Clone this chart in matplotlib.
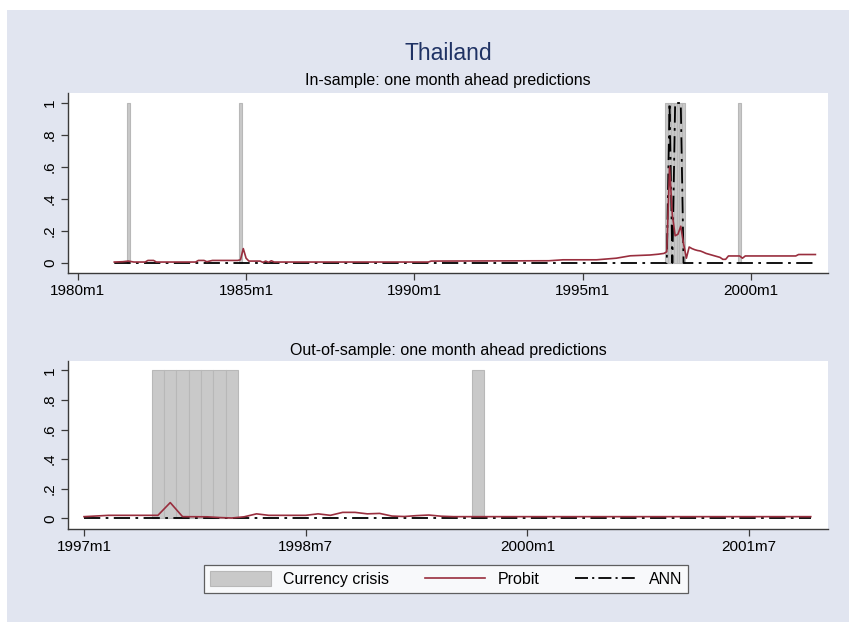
import matplotlib.pyplot as plt
import matplotlib.patches as mpatches
from matplotlib.lines import Line2D
import numpy as np

plt.rcParams['font.family'] = ['Liberation Sans', 'DejaVu Sans']


def stata_month(s):
    # "1997m7" -> months since 1960m1, like Stata's %tm
    y, m = s.split('m')
    return (int(y) - 1960) * 12 + int(m) - 1


# ---- In-sample panel ----
crisis_in = ["1981m7", "1984m11", "1997m7", "1997m8", "1997m9", "1997m10",
             "1997m11", "1997m12", "1998m1", "1999m9"]

probit_in_dates = ["1981m2", "1981m5", "1981m7", "1981m9", "1982m1", "1982m2",
                   "1982m4", "1982m5", "1983m7", "1983m8", "1983m10", "1983m11",
                   "1984m1", "1984m10", "1984m11", "1984m12", "1985m1", "1985m2",
                   "1985m6", "1985m7", "1985m8", "1985m9", "1985m10", "1985m11",
                   "1986m1", "1990m6", "1990m7", "1994m1", "1994m6", "1995m6",
                   "1996m1", "1996m6", "1997m1", "1997m4", "1997m6", "1997m7",
                   "1997m8", "1997m9", "1997m10", "1997m11", "1997m12", "1998m1",
                   "1998m2", "1998m3", "1998m4", "1998m5", "1998m6", "1998m7",
                   "1998m8", "1998m9", "1998m10", "1998m11", "1998m12", "1999m1",
                   "1999m2", "1999m3", "1999m4", "1999m5", "1999m9", "1999m10",
                   "1999m11", "2001m5", "2001m6", "2001m12"]
probit_in_vals = [0.006, 0.008, 0.012, 0.006, 0.006, 0.016,
                  0.016, 0.006, 0.006, 0.016, 0.016, 0.008,
                  0.016, 0.016, 0.02, 0.09, 0.03, 0.012,
                  0.012, 0.004, 0.012, 0.004, 0.014, 0.006,
                  0.006, 0.006, 0.012, 0.014, 0.02, 0.02,
                  0.03, 0.045, 0.05, 0.055, 0.06, 0.07,
                  0.60, 0.30, 0.17, 0.18, 0.23, 0.12,
                  0.03, 0.10, 0.09, 0.083, 0.078, 0.075,
                  0.068, 0.06, 0.055, 0.05, 0.045, 0.04,
                  0.035, 0.023, 0.023, 0.044, 0.044, 0.03,
                  0.044, 0.044, 0.053, 0.053]

ann_in_dates = ["1981m2", "1997m7", "1997m8", "1997m9", "1997m10", "1997m12",
                "1998m1", "2001m12"]
ann_in_vals = [0, 0, 1, 0, 1, 1, 0, 0]

# ---- Out-of-sample panel ----
crisis_out = ["1997m7", "1997m8", "1997m9", "1997m10", "1997m11", "1997m12",
              "1998m1", "1999m9"]

probit_out_dates = ["1997m1", "1997m3", "1997m7", "1997m8", "1997m9", "1997m11",
                    "1997m12", "1998m1", "1998m2", "1998m3", "1998m4", "1998m6",
                    "1998m7", "1998m8", "1998m9", "1998m10", "1998m11", "1998m12",
                    "1999m1", "1999m2", "1999m3", "1999m4", "1999m5", "1999m6",
                    "1999m7", "2001m12"]
probit_out_vals = [0.011, 0.02, 0.02, 0.106, 0.011, 0.01,
                   0.005, 0.002, 0.01, 0.03, 0.02, 0.02,
                   0.02, 0.03, 0.02, 0.04, 0.04, 0.03,
                   0.033, 0.015, 0.012, 0.018, 0.022, 0.014,
                   0.011, 0.011]

ann_out_dates = ["1997m1", "2001m12"]
ann_out_vals = [0, 0]

bg = '#E1E5F0'
red = '#992E3E'
bar_fc = '#C9C9C9'
bar_ec = '#B8B8B8'
ann_ls = (0, (9, 3, 1.5, 3))

fig = plt.figure(figsize=(8.49, 6.22), dpi=100)
fig.patches.append(mpatches.Rectangle((7 / 849, 0), 1, 1 - 10 / 622,
                                      transform=fig.transFigure,
                                      facecolor=bg, edgecolor='none', zorder=-10))

ax1 = fig.add_axes([68 / 849, 1 - 273 / 622, 760 / 849, 180 / 622])
ax2 = fig.add_axes([68 / 849, 1 - 528.5 / 622, 760 / 849, 167.8 / 622])


def draw_panel(ax, crisis, pd_, pv, ad, av, xticks, ylim, xlim):
    cx = [stata_month(d) for d in crisis]
    ax.bar(cx, [1] * len(cx), width=1, color=bar_fc, edgecolor=bar_ec,
           linewidth=0.8, zorder=1)
    ax.plot([stata_month(d) for d in pd_], pv, color=red, lw=1.2, zorder=3)
    ax.plot([stata_month(d) for d in ad], av, color='black', lw=1.3,
            linestyle=ann_ls, zorder=2)
    ax.set_xlim(*xlim)
    ax.set_ylim(*ylim)
    ax.set_xticks([stata_month(t) for t in xticks])
    ax.set_xticklabels(xticks)
    ax.set_yticks([0, 0.2, 0.4, 0.6, 0.8, 1])
    ax.set_yticklabels(['0', '.2', '.4', '.6', '.8', '1'], rotation=90,
                       va='center')
    for s in ['top', 'right']:
        ax.spines[s].set_visible(False)
    for s in ['left', 'bottom']:
        ax.spines[s].set_color('#3A3A3A')
        ax.spines[s].set_linewidth(1.0)
    ax.tick_params(axis='both', length=5, width=0.9, color='#3A3A3A',
                   labelsize=11, pad=3)
    ax.set_facecolor('white')


draw_panel(ax1, crisis_in, probit_in_dates, probit_in_vals, ann_in_dates,
           ann_in_vals, ["1980m1", "1985m1", "1990m1", "1995m1", "2000m1"],
           (-0.0625, 1.0625), (236.5, 507.5))
draw_panel(ax2, crisis_out, probit_out_dates, probit_out_vals, ann_out_dates,
           ann_out_vals, ["1997m1", "1998m7", "2000m1", "2001m7"],
           (-0.069, 1.065), (442.7, 504.4))

fig.text(448 / 849, 1 - 53 / 622, 'Thailand', ha='center', va='center',
         fontsize=16.5, color='#1F3264')
fig.text(448 / 849, 1 - 80 / 622, 'In-sample: one month ahead predictions',
         ha='center', va='center', fontsize=11.5)
fig.text(448 / 849, 1 - 350 / 622, 'Out-of-sample: one month ahead predictions',
         ha='center', va='center', fontsize=11.5)

# legend handle for ANN: dash-dot-dash-dot-dash across the handle
handles = [mpatches.Patch(facecolor=bar_fc, edgecolor=bar_ec, lw=0.8),
           Line2D([], [], color=red, lw=1.2),
           Line2D([], [], color='black', lw=1.3,
                  linestyle=(0, (7.2, 2.3, 1.15, 2.3)))]
leg = fig.legend(handles, ['Currency crisis', 'Probit', 'ANN'], ncol=3,
                 loc='center', bbox_to_anchor=(446 / 849, 1 - 579 / 622),
                 frameon=True, fancybox=False, fontsize=11.5, handlelength=3.8,
                 handleheight=1.1, columnspacing=2.2, handletextpad=0.8,
                 borderpad=0.35)
leg.get_frame().set_edgecolor('#3A3A3A')
leg.get_frame().set_linewidth(0.9)

fig.savefig('out.png', dpi=100)
